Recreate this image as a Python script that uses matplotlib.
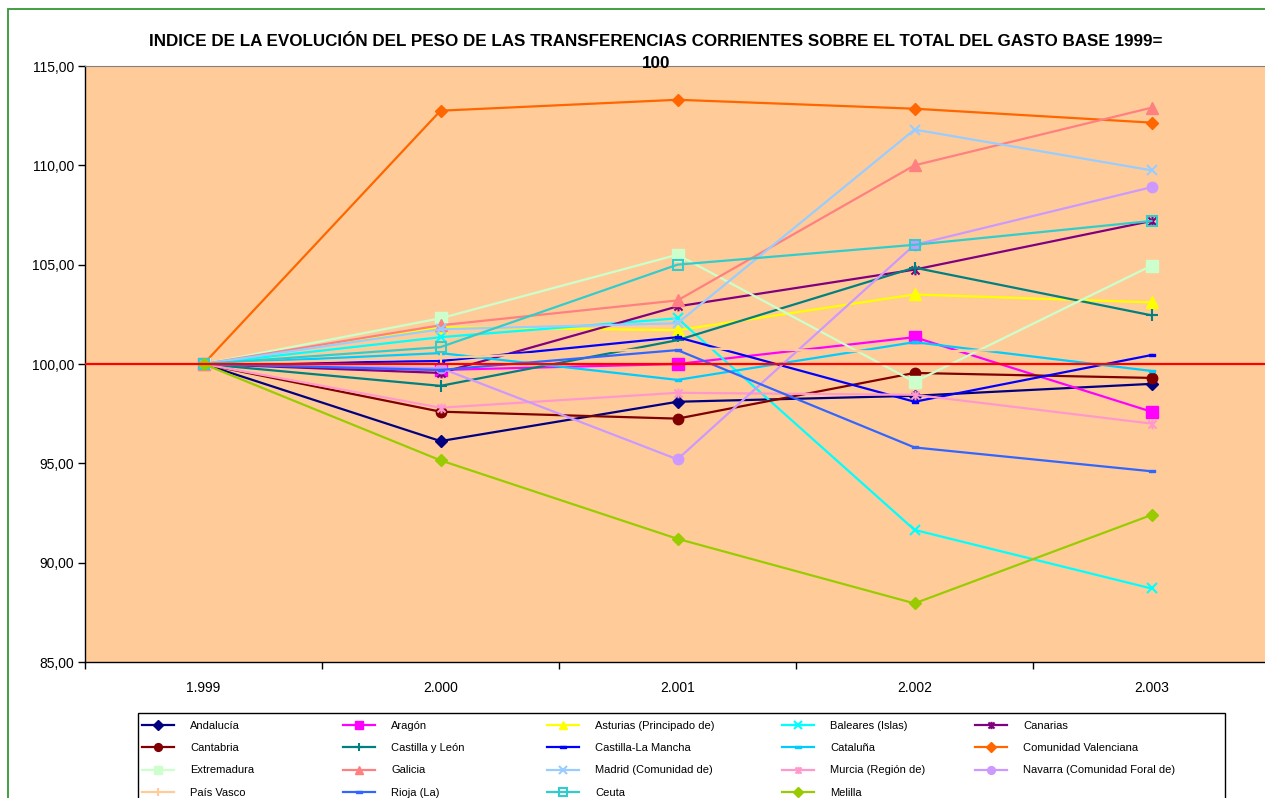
import matplotlib
matplotlib.use("Agg")
import matplotlib.pyplot as plt
from matplotlib.path import Path
from matplotlib.lines import Line2D
from matplotlib.patches import Rectangle
import numpy as np

plt.rcParams['font.family'] = ['Liberation Sans', 'DejaVu Sans']

years = ["1.999", "2.000", "2.001", "2.002", "2.003"]

andalucia = [100, 96.12, 98.10, 98.40, 99.00]
aragon = [100, 99.70, 100.00, 101.35, 97.60]
asturias = [100, 101.85, 101.70, 103.50, 103.10]
baleares = [100, 101.35, 102.30, 91.65, 88.70]
canarias = [100, 99.55, 102.90, 104.75, 107.20]
cantabria = [100, 97.60, 97.25, 99.55, 99.30]
castilla_leon = [100, 98.90, 101.20, 104.85, 102.45]
castilla_mancha = [100, 100.15, 101.35, 98.10, 100.45]
cataluna = [100, 100.55, 99.20, 101.10, 99.65]
valenciana = [100, 112.75, 113.30, 112.85, 112.15]
extremadura = [100, 102.30, 105.50, 99.10, 104.95]
galicia = [100, 101.95, 103.20, 110.00, 112.90]
madrid = [100, 101.75, 102.05, 111.80, 109.75]
murcia = [100, 97.80, 98.55, 98.45, 97.00]
navarra = [100, 99.80, 95.20, 106.00, 108.90]
pais_vasco = [100, 100.30, 100.80, 100.60, 100.90]
rioja = [100, 99.70, 100.70, 95.80, 94.60]
ceuta = [100, 100.85, 105.00, 106.00, 107.20]
melilla = [100, 95.15, 91.20, 87.95, 92.40]

series_names = ["Andalucía", "Aragón", "Asturias (Principado de)", "Baleares (Islas)", "Canarias",
                "Cantabria", "Castilla y León", "Castilla-La Mancha", "Cataluña", "Comunidad Valenciana",
                "Extremadura", "Galicia", "Madrid (Comunidad de)", "Murcia (Región de)",
                "Navarra (Comunidad Foral de)", "País Vasco", "Rioja (La)", "Ceuta", "Melilla"]
series_values = [andalucia, aragon, asturias, baleares, canarias, cantabria, castilla_leon,
                 castilla_mancha, cataluna, valenciana, extremadura, galicia, madrid, murcia,
                 navarra, pais_vasco, rioja, ceuta, melilla]

# marker styles
star = Path([(-1, -1), (1, 1), (-1, 1), (1, -1), (0, -1.2), (0, 1.2)],
            [Path.MOVETO, Path.LINETO, Path.MOVETO, Path.LINETO, Path.MOVETO, Path.LINETO])
dash = Path([(-1, -0.35), (1, -0.35), (1, 0.35), (-1, 0.35), (-1, -0.35)],
            [Path.MOVETO, Path.LINETO, Path.LINETO, Path.LINETO, Path.CLOSEPOLY])

styles = [
    dict(color="#000080", marker="D", ms=6.5),
    dict(color="#FF00FF", marker="s", ms=8),
    dict(color="#FFFF00", marker="^", ms=8),
    dict(color="#00FFFF", marker="x", ms=7, mew=1.5),
    dict(color="#800080", marker=star, ms=7, mew=1.5),
    dict(color="#800000", marker="o", ms=7.5),
    dict(color="#008080", marker="+", ms=8, mew=1.5),
    dict(color="#0000FF", marker=dash, ms=5),
    dict(color="#00CCFF", marker=dash, ms=5),
    dict(color="#FF6600", marker="D", ms=6.5),
    dict(color="#CCFFCC", marker="s", ms=8),
    dict(color="#FF8080", marker="^", ms=8),
    dict(color="#99CCFF", marker="x", ms=7, mew=1.5),
    dict(color="#FF99CC", marker=star, ms=7, mew=1.5),
    dict(color="#CC99FF", marker="o", ms=7.5),
    dict(color="#FFCC99", marker="+", ms=8, mew=1.5),
    dict(color="#3366FF", marker=dash, ms=5),
    dict(color="#33CCCC", marker="s", ms=7, mfc="none", mew=1.5),
    dict(color="#99CC00", marker="D", ms=6.5),
]

W, H = 1265, 798
fig = plt.figure(figsize=(W / 100, H / 100), dpi=100)
fig.patch.set_facecolor("white")

# outer green frame
fig.patches.append(Rectangle((8 / W, -0.05), 1.1, 1 - 9 / H + 0.05, transform=fig.transFigure,
                             fill=False, edgecolor="#339933", linewidth=1.3, zorder=0))

ax_l, ax_r, ax_t, ax_b = 85, 1270, 66, 662
ax = fig.add_axes([ax_l / W, 1 - ax_b / H, (ax_r - ax_l) / W, (ax_b - ax_t) / H])
ax.set_facecolor("#FFCC99")

x = np.arange(len(years))
handles = []
for name, vals, st in zip(series_names, series_values, styles):
    st = dict(st)
    c = st.pop("color")
    m = st.pop("marker")
    ms = st.pop("ms")
    mew = st.pop("mew", 1.0)
    mfc = st.pop("mfc", c)
    h, = ax.plot(x, vals, color=c, marker=m, markersize=ms, markeredgewidth=mew,
                 markerfacecolor=mfc, markeredgecolor=c, linewidth=1.6, label=name, zorder=2)
    handles.append(h)

ax.axhline(100, color="#FF0000", linewidth=1.6, zorder=3)

ax.set_xlim(-0.5, len(years) - 0.5)
ax.set_ylim(85, 115)
ax.set_yticks(np.arange(85, 115.1, 5))
ax.set_yticklabels([f"{v:.2f}".replace(".", ",") for v in np.arange(85, 115.1, 5)], fontsize=10)
ax.set_xticks(x)
ax.set_xticklabels(years, fontsize=10)
ax.set_xticks(np.arange(-0.5, len(years), 1), minor=True)
ax.tick_params(axis="x", which="major", length=0, pad=14)
ax.tick_params(axis="x", which="minor", length=5, width=1, direction="out")
ax.tick_params(axis="y", length=5, width=1, direction="out", pad=3)
ax.spines["top"].set_color("#808080")
ax.spines["right"].set_visible(False)
for s in ["left", "bottom"]:
    ax.spines[s].set_color("black")
    ax.spines[s].set_linewidth(1)

fig.text(656 / W, 1 - 34 / H,
         "INDICE DE LA EVOLUCIÓN DEL PESO DE LAS TRANSFERENCIAS CORRIENTES SOBRE EL TOTAL DEL GASTO BASE 1999=\n100",
         ha="center", va="top", fontsize=12.25, fontweight="bold", linespacing=1.55)

# legend frame
fig.patches.append(Rectangle((138 / W, -0.05), (1225 - 138) / W, 1 - 713 / H + 0.05,
                             transform=fig.transFigure, facecolor="white", edgecolor="black",
                             linewidth=1.0, zorder=1))

col_x = [142, 343, 547, 782, 975]
rows = 4
for ci, cx in enumerate(col_x):
    idxs = [ci + 5 * r for r in range(rows) if ci + 5 * r < len(handles)]
    leg = fig.legend([handles[i] for i in idxs], [series_names[i] for i in idxs],
                     loc="upper left", bbox_to_anchor=(cx / W, 1 - 721 / H),
                     frameon=False, fontsize=8, handlelength=2.9, handletextpad=1.45,
                     labelspacing=1.1, borderpad=0, borderaxespad=0, markerscale=0.75)
    leg.set_zorder(2)

fig.savefig("out.png", dpi=100)
